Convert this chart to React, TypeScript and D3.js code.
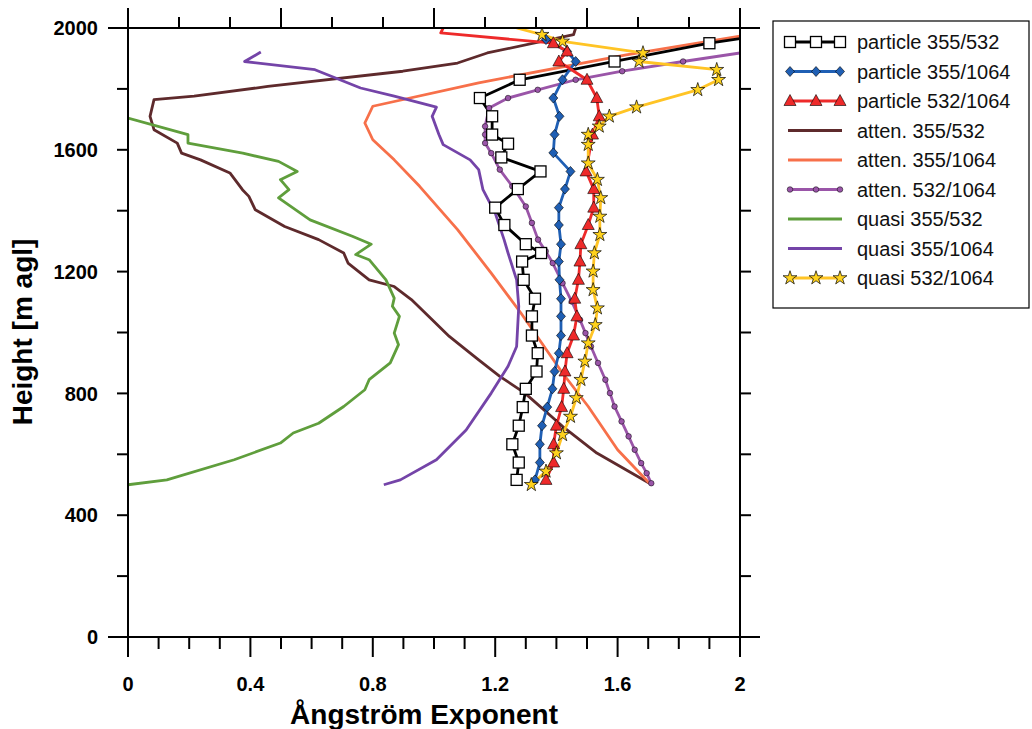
import { useRef, useEffect } from "react";
import * as d3 from "d3";

// ─── Data: [Ångström exponent, height m agl] ─────────────────────────────────

type Pt = [number, number];

const particle355_532: Pt[] = [
  [1.27, 516], [1.277, 573], [1.256, 633], [1.277, 694], [1.29, 755], [1.30, 815],
  [1.335, 872], [1.339, 932], [1.32, 990], [1.32, 1053], [1.33, 1111], [1.293, 1173],
  [1.288, 1233], [1.35, 1261], [1.30, 1290], [1.23, 1353], [1.20, 1410], [1.274, 1471],
  [1.348, 1529], [1.22, 1575], [1.242, 1620], [1.19, 1650], [1.19, 1710], [1.15, 1770],
  [1.28, 1830], [1.59, 1890], [1.90, 1950], [2.0, 1965],
];
const particle355_1064: Pt[] = [
  [1.33, 516], [1.346, 573], [1.346, 633], [1.353, 694], [1.37, 755], [1.387, 815],
  [1.394, 872], [1.408, 932], [1.415, 990], [1.415, 1053], [1.415, 1111], [1.41, 1173],
  [1.408, 1233], [1.415, 1290], [1.408, 1353], [1.408, 1410], [1.428, 1471], [1.446, 1529],
  [1.39, 1590], [1.394, 1650], [1.41, 1710], [1.39, 1770], [1.42, 1830], [1.463, 1890],
  [1.435, 1923], [1.366, 1962],
];
const particle532_1064: Pt[] = [
  [1.366, 516], [1.391, 573], [1.391, 633], [1.40, 694], [1.417, 755], [1.424, 815],
  [1.428, 872], [1.435, 932], [1.456, 990], [1.467, 1053], [1.46, 1111], [1.472, 1173],
  [1.477, 1233], [1.48, 1290], [1.504, 1353], [1.522, 1410], [1.522, 1471], [1.497, 1529],
  [1.518, 1650], [1.54, 1710], [1.532, 1770], [1.50, 1830], [1.408, 1890], [1.435, 1923],
  [1.39, 1950], [1.022, 1984], [1.03, 2000],
];
const atten355_532: Pt[] = [
  [1.704, 505], [1.532, 604], [1.42, 692], [1.297, 801], [1.215, 856], [1.146, 910],
  [1.105, 943], [1.05, 987], [0.994, 1042], [0.926, 1108], [0.87, 1151], [0.788, 1173],
  [0.719, 1228], [0.705, 1261], [0.623, 1305], [0.512, 1348], [0.416, 1403], [0.395, 1447],
  [0.374, 1469], [0.333, 1524], [0.237, 1567], [0.175, 1589], [0.161, 1622], [0.085, 1666],
  [0.072, 1710], [0.085, 1765], [0.216, 1776], [0.457, 1808], [0.898, 1858], [1.077, 1885],
  [1.174, 1918], [1.456, 1978], [1.463, 2000],
];
const atten355_1064: Pt[] = [
  [1.704, 505], [1.60, 615], [1.504, 757], [1.42, 867], [1.284, 1064], [1.187, 1195],
  [1.077, 1338], [0.953, 1480], [0.87, 1567], [0.80, 1633], [0.774, 1688], [0.80, 1743],
  [1.146, 1820], [1.628, 1912], [2.0, 1973],
];
const atten532_1064: Pt[] = [
  [1.71, 505], [1.695, 538], [1.677, 571], [1.656, 615], [1.636, 659], [1.613, 708],
  [1.59, 757], [1.575, 801], [1.56, 845], [1.536, 900], [1.513, 954], [1.495, 998],
  [1.477, 1042], [1.45, 1102], [1.42, 1162], [1.388, 1228], [1.365, 1267], [1.34, 1305],
  [1.32, 1360], [1.30, 1414], [1.256, 1480], [1.215, 1535], [1.187, 1589], [1.167, 1622],
  [1.167, 1650], [1.167, 1677], [1.18, 1737], [1.242, 1770], [1.339, 1797], [1.463, 1830],
  [1.615, 1858], [1.814, 1890], [2.0, 1918],
];
const quasi355_532: Pt[] = [
  [0, 500], [0.127, 516], [0.347, 582], [0.498, 637], [0.54, 670], [0.623, 702],
  [0.705, 757], [0.774, 812], [0.788, 845], [0.857, 900], [0.884, 960], [0.87, 998],
  [0.887, 1053], [0.864, 1086], [0.87, 1113], [0.843, 1173], [0.788, 1239], [0.744, 1256],
  [0.795, 1290], [0.733, 1316], [0.595, 1370], [0.492, 1442], [0.526, 1469], [0.498, 1502],
  [0.553, 1529], [0.492, 1562], [0.375, 1589], [0.196, 1622], [0.196, 1650], [0, 1704],
];
const quasi355_1064: Pt[] = [
  [0.836, 500], [0.89, 516], [1.008, 582], [1.105, 680], [1.187, 801], [1.242, 889],
  [1.27, 954], [1.277, 1086], [1.27, 1173], [1.242, 1261], [1.229, 1305], [1.20, 1392],
  [1.16, 1469], [1.146, 1535], [1.118, 1567], [1.03, 1617], [1.016, 1650], [0.994, 1710],
  [1.008, 1740], [0.87, 1776], [0.76, 1803], [0.611, 1863], [0.381, 1890], [0.434, 1921],
];
const quasi532_1064: Pt[] = [
  [1.318, 500], [1.366, 544], [1.40, 604], [1.42, 664], [1.446, 724], [1.465, 785],
  [1.48, 845], [1.493, 905], [1.504, 965], [1.527, 1025], [1.534, 1080], [1.52, 1140],
  [1.52, 1201], [1.524, 1261], [1.542, 1321], [1.542, 1381], [1.545, 1442], [1.534, 1502],
  [1.504, 1556], [1.504, 1617], [1.504, 1650], [1.54, 1677], [1.573, 1710], [1.662, 1740],
  [1.862, 1797], [1.93, 1830], [1.924, 1863], [1.67, 1890], [1.683, 1918], [1.42, 1956],
  [1.353, 1978], [1.27, 2000],
];

type Marker = "none" | "square" | "diamond" | "triangle" | "circle" | "star";
interface Series { name: string; data: Pt[]; color: string; marker: Marker; fill: string }

const SERIES: Series[] = [
  { name: "particle 355/532", data: particle355_532, color: "#000000", marker: "square", fill: "#ffffff" },
  { name: "particle 355/1064", data: particle355_1064, color: "#1f5fb4", marker: "diamond", fill: "#1f5fb4" },
  { name: "particle 532/1064", data: particle532_1064, color: "#ee2a2a", marker: "triangle", fill: "#ee2a2a" },
  { name: "atten. 355/532", data: atten355_532, color: "#5e2a2c", marker: "none", fill: "none" },
  { name: "atten. 355/1064", data: atten355_1064, color: "#f7704a", marker: "none", fill: "none" },
  { name: "atten. 532/1064", data: atten532_1064, color: "#9a55a8", marker: "circle", fill: "#9a55a8" },
  { name: "quasi 355/532", data: quasi355_532, color: "#5f9e3c", marker: "none", fill: "none" },
  { name: "quasi 355/1064", data: quasi355_1064, color: "#7444a8", marker: "none", fill: "none" },
  { name: "quasi 532/1064", data: quasi532_1064, color: "#ffc425", marker: "star", fill: "#ffd21c" },
];

const X_LABELS = [0, 0.4, 0.8, 1.2, 1.6, 2];
const Y_LABELS = [0, 400, 800, 1200, 1600, 2000];

const FONT = "'Liberation Sans', Arial, sans-serif";
const PLOT = { left: 128, right: 740, top: 28, bottom: 637 };

function drawMarker(g: d3.Selection<SVGGElement, unknown, null, undefined>, kind: Marker, x: number, y: number, s: Series) {
  const stroke = "#000";
  if (kind === "square") {
    g.append("rect").attr("x", x - 5.5).attr("y", y - 5.5).attr("width", 11).attr("height", 11)
      .attr("fill", "#fff").attr("stroke", stroke).attr("stroke-width", 1.3);
  } else if (kind === "diamond") {
    g.append("path").attr("d", `M${x},${y - 5}L${x + 4.5},${y}L${x},${y + 5}L${x - 4.5},${y}Z`)
      .attr("fill", s.fill).attr("stroke", stroke).attr("stroke-width", 0.6);
  } else if (kind === "triangle") {
    g.append("path").attr("d", `M${x},${y - 6.5}L${x + 6},${y + 4.5}L${x - 6},${y + 4.5}Z`)
      .attr("fill", s.fill).attr("stroke", stroke).attr("stroke-width", 0.6);
  } else if (kind === "circle") {
    g.append("circle").attr("cx", x).attr("cy", y).attr("r", 2.8)
      .attr("fill", s.fill).attr("stroke", stroke).attr("stroke-width", 0.5);
  } else if (kind === "star") {
    g.append("path").attr("d", d3.symbol(d3.symbolStar, 60)()!).attr("transform", `translate(${x},${y})`)
      .attr("fill", s.fill).attr("stroke", stroke).attr("stroke-width", 0.7);
  }
}

export default function App() {
  const svgRef = useRef<SVGSVGElement>(null);

  useEffect(() => {
    if (!svgRef.current) return;
    const svg = d3.select(svgRef.current);
    svg.selectAll("*").remove();

    const x = d3.scaleLinear().domain([0, 2]).range([PLOT.left, PLOT.right]);
    const y = d3.scaleLinear().domain([0, 2000]).range([PLOT.bottom, PLOT.top]);

    // ── Clip ──
    svg.append("defs").append("clipPath").attr("id", "clip").append("rect")
      .attr("x", PLOT.left).attr("y", PLOT.top).attr("width", PLOT.right - PLOT.left).attr("height", PLOT.bottom - PLOT.top);

    // ── Series lines ──
    const line = d3.line<Pt>().x((d) => x(d[0])).y((d) => y(d[1]));
    const plot = svg.append("g").attr("clip-path", "url(#clip)");
    const order = [3, 4, 6, 7, 5, 0, 1, 2, 8];
    order.forEach((i) => {
      const s = SERIES[i];
      plot.append("path").attr("d", line(s.data)!).attr("fill", "none")
        .attr("stroke", s.color).attr("stroke-width", 2.8).attr("stroke-linejoin", "round");
    });
    const markers = svg.append("g");
    [5, 0, 1, 2, 8].forEach((i) => {
      const s = SERIES[i];
      s.data.forEach((d) => {
        if (d[1] > 1980 || d[0] > 1.99) return;
        drawMarker(markers, s.marker, x(d[0]), y(d[1]), s);
      });
    });

    // ── Axes ──
    const ax = svg.append("g").attr("stroke", "#000").attr("stroke-width", 2);
    ax.append("line").attr("x1", 108).attr("x2", 760).attr("y1", PLOT.bottom).attr("y2", PLOT.bottom);
    ax.append("line").attr("x1", 108).attr("x2", 760).attr("y1", PLOT.top).attr("y2", PLOT.top);
    ax.append("line").attr("x1", PLOT.left).attr("x2", PLOT.left).attr("y1", 8).attr("y2", 657);
    ax.append("line").attr("x1", PLOT.right).attr("x2", PLOT.right).attr("y1", 8).attr("y2", 657);

    // bottom ticks every 0.1, long at 0.4
    d3.range(0, 21).forEach((k) => {
      const v = k / 10;
      const major = k % 4 === 0;
      ax.append("line").attr("x1", x(v)).attr("x2", x(v)).attr("y1", PLOT.bottom).attr("y2", PLOT.bottom + (major ? 20 : 12));
    });
    // top ticks every 1/6, long at 0.5
    d3.range(0, 13).forEach((k) => {
      const v = k / 6;
      const major = k % 3 === 0;
      ax.append("line").attr("x1", x(v)).attr("x2", x(v)).attr("y1", PLOT.top).attr("y2", PLOT.top - (major ? 20 : 11));
    });
    // left/right ticks every 200
    d3.range(0, 2001, 200).forEach((h) => {
      ax.append("line").attr("x1", PLOT.left - 11).attr("x2", PLOT.left).attr("y1", y(h)).attr("y2", y(h));
      ax.append("line").attr("x1", PLOT.right).attr("x2", PLOT.right + 11).attr("y1", y(h)).attr("y2", y(h));
    });

    const txt = svg.append("g").attr("font-family", FONT).attr("font-weight", "bold").attr("fill", "#000");
    X_LABELS.forEach((v) => {
      txt.append("text").attr("x", x(v)).attr("y", 691).attr("text-anchor", "middle")
        .attr("font-size", 20).text(d3.format("~g")(v));
    });
    Y_LABELS.forEach((h) => {
      txt.append("text").attr("x", 98).attr("y", y(h)).attr("dy", "0.36em").attr("text-anchor", "end")
        .attr("font-size", 20).text(h);
    });
    txt.append("text").attr("x", 424).attr("y", 724).attr("text-anchor", "middle")
      .attr("font-size", 28).attr("textLength", 268).text("Ångström Exponent");
    txt.append("text").attr("transform", "translate(32,332) rotate(-90)").attr("text-anchor", "middle")
      .attr("font-size", 28).text("Height [m agl]");

    // ── Legend ──
    const lg = svg.append("g").attr("font-family", FONT);
    lg.append("rect").attr("x", 773).attr("y", 21).attr("width", 256).attr("height", 287)
      .attr("fill", "#fff").attr("stroke", "#000").attr("stroke-width", 1.2);
    SERIES.forEach((s, i) => {
      const ly = 42 + i * 29.5;
      lg.append("line").attr("x1", 788).attr("x2", 842).attr("y1", ly).attr("y2", ly)
        .attr("stroke", s.color).attr("stroke-width", 2.8);
      if (s.marker !== "none") {
        const mg = lg.append("g");
        [790, 816, 840].forEach((mx) => drawMarker(mg, s.marker, mx, ly, s));
      }
      lg.append("text").attr("x", 857).attr("y", ly).attr("dy", "0.36em").attr("font-size", 20)
        .attr("fill", "#111").text(s.name);
    });
  }, []);

  return (
    <svg ref={svgRef} width={1032} height={729}
      style={{ position: "absolute", left: 0, top: 0, background: "#fff" }} />
  );
}
